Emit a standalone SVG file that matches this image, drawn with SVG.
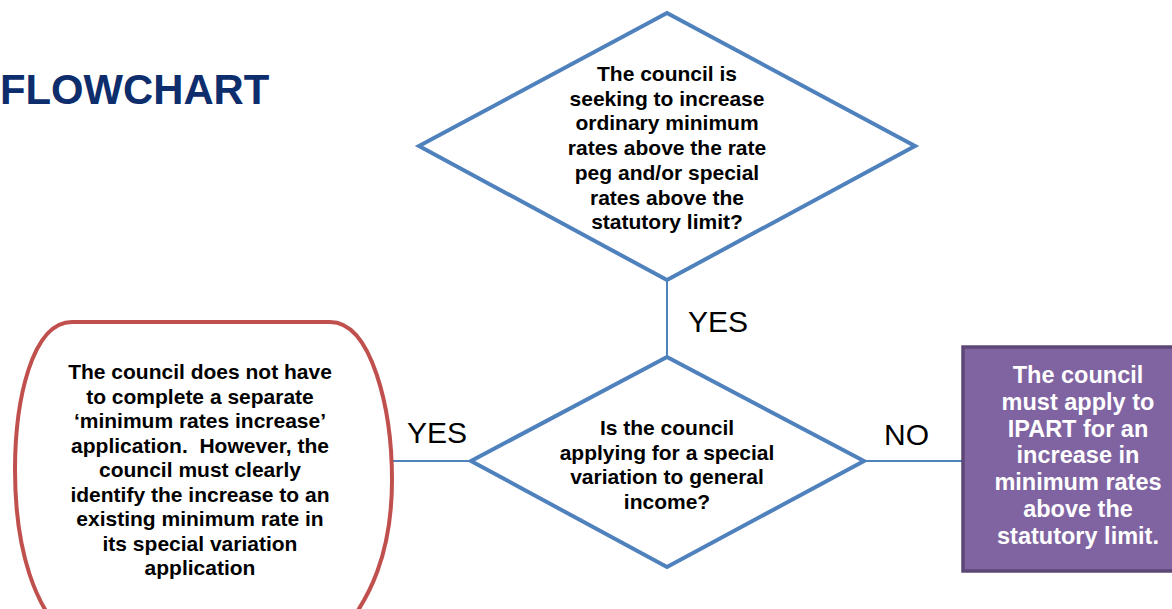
<svg xmlns="http://www.w3.org/2000/svg" width="1172" height="609" viewBox="0 0 1172 609">
<style>
.dia{fill:#ffffff;stroke:#4f81bd;stroke-width:4;stroke-linejoin:miter}
.con{stroke:#4f81bd;stroke-width:2;fill:none}
.bt{font-family:"Liberation Sans",Arial,sans-serif;font-weight:bold;font-size:21px;fill:#000;text-anchor:middle}
.wt{font-family:"Liberation Sans",Arial,sans-serif;font-weight:bold;font-size:23.5px;fill:#fff;text-anchor:middle}
.lbl{font-family:"Liberation Sans",Arial,sans-serif;font-size:30px;fill:#000}
</style>
<rect width="1172" height="609" fill="#ffffff"/>
<text x="0" y="104" style="font-family:'Liberation Sans',Arial,sans-serif;font-weight:bold;font-size:41.8px;fill:#0d2d6c">FLOWCHART</text>
<g id="connectors">
<line class="con" x1="667" y1="280" x2="667" y2="357"/>
<line class="con" x1="392" y1="461" x2="471" y2="461"/>
<line class="con" x1="864" y1="461" x2="963" y2="461"/>
</g>
<g id="labels">
<text class="lbl" x="688" y="332">YES</text>
<text class="lbl" x="407" y="443">YES</text>
<text class="lbl" x="884" y="445">NO</text>
</g>
<g id="node-q1">
<polygon class="dia" points="667,13 915,146 667,280 419,146"/>
<text class="bt" x="667" y="81">The council is</text>
<text class="bt" x="667" y="105.7">seeking to increase</text>
<text class="bt" x="667" y="130.4">ordinary minimum</text>
<text class="bt" x="667" y="155.1">rates above the rate</text>
<text class="bt" x="667" y="179.8">peg and/or special</text>
<text class="bt" x="667" y="204.5">rates above the</text>
<text class="bt" x="667" y="229.2">statutory limit?</text>
</g>
<g id="node-q2">
<polygon class="dia" points="667,357 864,461 667,567 471,461"/>
<text class="bt" x="667" y="435">Is the council</text>
<text class="bt" x="667" y="459.7">applying for a special</text>
<text class="bt" x="667" y="484.4">variation to general</text>
<text class="bt" x="667" y="509.1">income?</text>
</g>
<g id="node-yes">
<path d="M 72,322 H 330 C 372,322 392,410 392,480 C 392,550 372,600 335,640 H 70 C 35,610 15,550 15,470 C 15,400 32,322 72,322 Z" fill="#ffffff" stroke="#c0504d" stroke-width="4"/>
<text class="bt" x="200" y="379">The council does not have</text>
<text class="bt" x="200" y="403.5">to complete a separate</text>
<text class="bt" x="200" y="428">‘minimum rates increase’</text>
<text class="bt" x="200" y="452.5" xml:space="preserve">application.  However, the</text>
<text class="bt" x="200" y="477">council must clearly</text>
<text class="bt" x="200" y="501.5">identify the increase to an</text>
<text class="bt" x="200" y="526">existing minimum rate in</text>
<text class="bt" x="200" y="550.5">its special variation</text>
<text class="bt" x="200" y="575">application</text>
</g>
<g id="node-no">
<rect x="963" y="347" width="230" height="224" fill="#8064a2" stroke="#5c4776" stroke-width="3.5"/>
<text class="wt" x="1078" y="383">The council</text>
<text class="wt" x="1078" y="409.8">must apply to</text>
<text class="wt" x="1078" y="436.6">IPART for an</text>
<text class="wt" x="1078" y="463.4">increase in</text>
<text class="wt" x="1078" y="490.2">minimum rates</text>
<text class="wt" x="1078" y="517">above the</text>
<text class="wt" x="1078" y="543.8">statutory limit.</text>
</g>
</svg>
